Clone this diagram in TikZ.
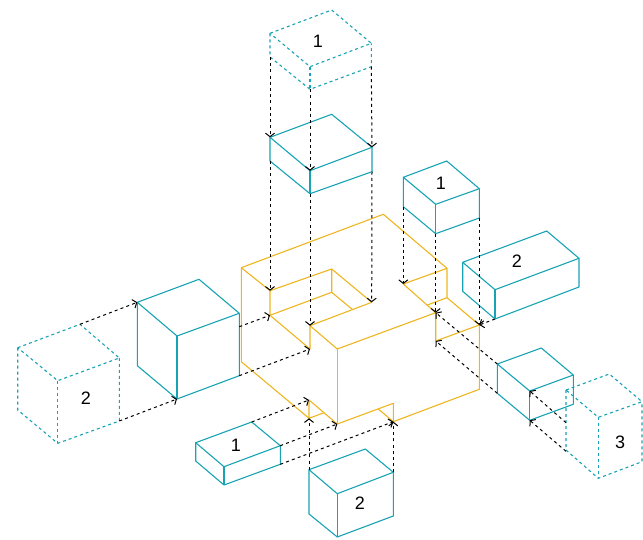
\documentclass[tikz,border=0pt]{standalone}
\usepackage{fontspec}
\setmainfont{Liberation Sans}
\usetikzlibrary{arrows.meta}
\definecolor{cyanline}{HTML}{18A3B4}
\definecolor{yellowline}{HTML}{EDB51F}
\tikzset{
  solidpart/.style={draw=yellowline,line width=1.1pt,line join=round},
  boxline/.style={draw=cyanline,line width=1.1pt,line join=round},
  ghostline/.style={draw=cyanline,line width=1.1pt,dash pattern=on 3pt off 3pt},
  movearrow/.style={draw=black,line width=1pt,dash pattern=on 3pt off 3.2pt,-{Straight Barb[length=3.5pt,width=9pt,line width=1pt]}},
  lbl/.style={font=\fontsize{18}{20}\selectfont,text=black,inner sep=0pt}
}
% #1 style, #2 prefix; seven corners: tl, tb, tr, tf, bl, bf, br
\newcommand{\isobox}[9]{%
  \coordinate (#2tl) at #3; \coordinate (#2tb) at #4; \coordinate (#2tr) at #5;
  \coordinate (#2tf) at #6; \coordinate (#2bl) at #7; \coordinate (#2bf) at #8;
  \coordinate (#2br) at #9;
  \draw[#1] (#2tl) -- (#2tb) -- (#2tr) -- (#2tf) -- cycle;
  \draw[#1] (#2tl) -- (#2bl) -- (#2bf) -- (#2br) -- (#2tr);
  \draw[#1] (#2tf) -- (#2bf);
}
\begin{document}
\begin{tikzpicture}[x=1pt,y=-1pt]
\useasboundingbox (0,0) rectangle (643,540);
% yellow object
\coordinate (y1) at (241.3,267.7); \coordinate (y2) at (383.3,214.3);
\coordinate (y3) at (447,268.3); \coordinate (y4) at (447,297.7);
\coordinate (y5) at (479.3,325); \coordinate (y6) at (479.3,389.3);
\coordinate (y7) at (393.3,421.7); \coordinate (y8) at (393.3,403.3);
\coordinate (y9) at (337.3,424); \coordinate (y10) at (309,400);
\coordinate (y11) at (309,418.3); \coordinate (y12) at (241.3,361.7);
\coordinate (n1) at (270,290.7); \coordinate (n2) at (331.7,269);
\coordinate (n3) at (371.7,302.3); \coordinate (n4) at (310,325.7);
\coordinate (n5) at (310,349); \coordinate (n6) at (270,315.3);
\coordinate (n7) at (331.7,292.3); \coordinate (n8) at (352.7,309.7);
\coordinate (c1) at (337.3,349); \coordinate (c2) at (435.7,312.7);
\coordinate (c3) at (403.3,284); \coordinate (c4) at (427.3,305);
\coordinate (c5) at (435.7,341); \coordinate (c6) at (324,412.7);
\coordinate (c7) at (378.3,409);
\draw[solidpart] (y1) -- (y2) -- (y3) -- (y4) -- (y5) -- (y6) -- (y7) -- (y8) -- (y9) -- (y10) -- (y11) -- (y12) -- cycle;
\draw[solidpart] (y1) -- (n1) -- (n2) -- (n3) -- (n4) -- (n5) -- (n6) -- (n1);
\draw[solidpart] (n6) -- (n7) -- (n2);
\draw[solidpart] (n7) -- (n8);
\draw[solidpart] (n4) -- (c1) -- (c2) -- (c3) -- (y3);
\draw[solidpart] (c1) -- (y9);
\draw[solidpart] (c4) -- (y4);
\draw[solidpart] (c2) -- (c5) -- (y5);
\draw[solidpart] (y11) -- (c6);
\draw[solidpart] (c7) -- (y7);
% cyan boxes
\isobox{ghostline}{ga}{(270,33.3)}{(331.7,10)}{(371.3,43.3)}{(310,66.7)}{(270,57)}{(310,89.3)}{(371.3,66.7)}
\isobox{boxline}{a}{(270,137.3)}{(331.7,114.3)}{(372,147.3)}{(310,170.7)}{(270,161)}{(310,193.7)}{(372,171.7)}
\isobox{boxline}{b}{(403.3,177.3)}{(446.7,161)}{(479.3,188.7)}{(435.7,204.3)}{(403.3,206.7)}{(435.7,233.7)}{(479.3,218)}
\isobox{boxline}{d}{(462.7,262.3)}{(546.7,231)}{(579,258.3)}{(495,289.7)}{(462.7,291.3)}{(495,319)}{(579,287)}
\isobox{boxline}{e}{(497.3,364)}{(541.3,348)}{(573.3,375)}{(529.7,391)}{(497.3,393.3)}{(529.7,420.3)}{(573.3,404.3)}
\isobox{ghostline}{ge}{(566,390)}{(609.3,374)}{(642,401.7)}{(598.3,417.3)}{(566,450)}{(598.3,478.3)}{(642,461.7)}
\isobox{ghostline}{gf}{(17.7,347.7)}{(80,324.3)}{(119.3,358)}{(57.7,380.7)}{(17.7,410)}{(57.7,443.3)}{(119.3,421)}
\isobox{boxline}{f}{(137.3,302.3)}{(199,279.3)}{(239.3,313.3)}{(177,336)}{(137.3,365.7)}{(177,399)}{(239.3,375.7)}
\isobox{boxline}{h}{(195.7,442.7)}{(251.7,422)}{(280.3,445.7)}{(224,466.7)}{(195.7,461)}{(224,485)}{(280.3,464.3)}
\isobox{boxline}{k}{(309,469.7)}{(365.3,449)}{(393.3,472.3)}{(337.3,493.7)}{(309,514)}{(337.3,537)}{(393.3,516)}
% free ends of connectors
\coordinate (e1) at (239.3,326.7);
\coordinate (e2) at (566,422.7);
\coordinate (e3) at (566,451.3);
% connectors
\draw[movearrow] (gabl) -- (atl);
\draw[movearrow] (gabf) -- (atf);
\draw[movearrow] (gabr) -- (atr);
\draw[movearrow] (abl) -- (n1);
\draw[movearrow] (abf) -- (n4);
\draw[movearrow] (abr) -- (n3);
\draw[movearrow] (bbl) -- (c3);
\draw[movearrow] (bbf) -- (c2);
\draw[movearrow] (bbr) -- (y5);
\draw[movearrow] (dbf) -- (y5);
\draw[movearrow] (etl) -- (c2);
\draw[movearrow] (ebl) -- (c5);
\draw[movearrow] (e2) -- (etf);
\draw[movearrow] (e3) -- (ebf);
\draw[movearrow] (gftb) -- (ftl);
\draw[movearrow] (gfbr) -- (fbf);
\draw[movearrow] (e1) -- (n6);
\draw[movearrow] (fbr) -- (n5);
\draw[movearrow] (htb) -- (y10);
\draw[movearrow] (htr) -- (y9);
\draw[movearrow] (hbr) -- (y7);
\draw[movearrow] (ktl) -- (y11);
\draw[movearrow] (ktr) -- (y7);
% labels
\node[lbl] (l1) at (318,41.5) {1};
\node[lbl] (l2) at (441,183.5) {1};
\node[lbl] (l3) at (517,261.5) {2};
\node[lbl] (l4) at (620,442.5) {3};
\node[lbl] (l5) at (86,398.5) {2};
\node[lbl] (l6) at (236,445.5) {1};
\node[lbl] (l7) at (360,503.5) {2};
\end{tikzpicture}
\end{document}
